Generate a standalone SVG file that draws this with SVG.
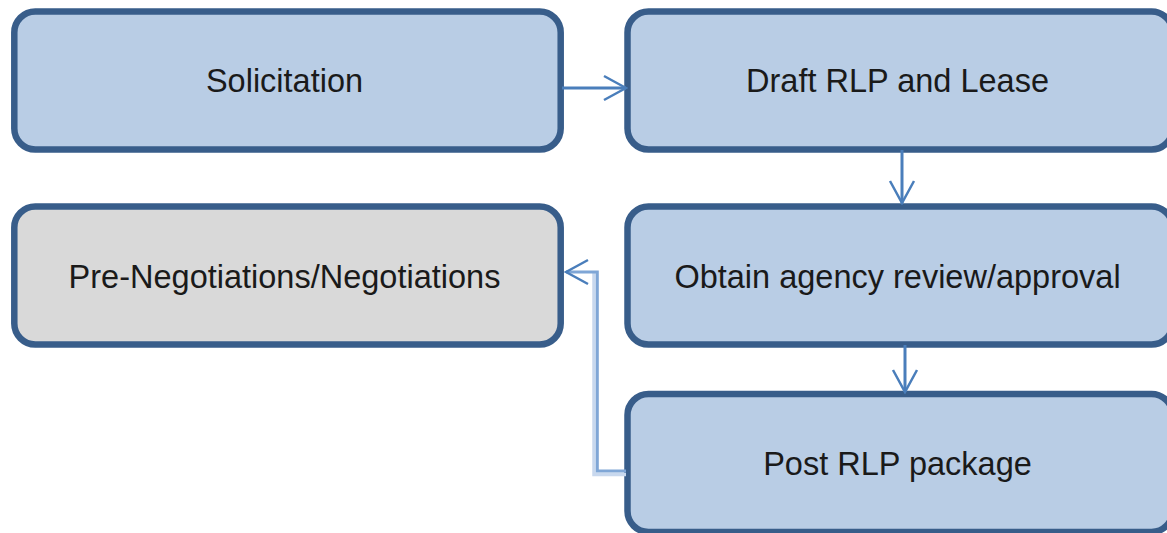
<svg xmlns="http://www.w3.org/2000/svg" width="1167" height="533" viewBox="0 0 1167 533">
  <style>
    .box { fill: #b9cde5; stroke: #385d8a; stroke-width: 6.5; }
    .grey { fill: #d9d9d9; }
    .label { font-family: "Liberation Sans", Arial, sans-serif; font-size: 32.5px; fill: #1a1a1a; text-anchor: middle; }
    .link { fill: none; stroke: #4a7ebb; stroke-width: 3; }
    .elbow { fill: none; stroke: #7fa6d6; stroke-width: 3; }
    .elbow-shade { fill: none; stroke: #c8d8ee; stroke-width: 3.5; }
  </style>
  <defs>
    <marker id="arrow" viewBox="-25 -14 27 28" markerWidth="27" markerHeight="28" refX="0" refY="0" orient="auto" markerUnits="userSpaceOnUse">
      <path d="M -22 -12 L 0 0 L -22 12" fill="none" stroke="#4a7ebb" stroke-width="2.5"/>
    </marker>
  </defs>
  <rect width="1167" height="533" fill="#ffffff"/>

  <g id="solicitation">
    <rect class="box" x="14.3" y="11.5" width="546.4" height="138" rx="21" ry="21"/>
    <text class="label" x="284.5" y="92">Solicitation</text>
  </g>
  <g id="draft-rlp">
    <rect class="box" x="627.5" y="11.5" width="545" height="138" rx="21" ry="21"/>
    <text class="label" x="897.5" y="92">Draft RLP and Lease</text>
  </g>
  <g id="pre-negotiations">
    <rect class="box grey" x="14.3" y="206.5" width="546.4" height="138" rx="21" ry="21"/>
    <text class="label" x="284.5" y="287.5">Pre-Negotiations/Negotiations</text>
  </g>
  <g id="agency-review">
    <rect class="box" x="627.5" y="206.5" width="545" height="138" rx="21" ry="21"/>
    <text class="label" x="897.5" y="287.5">Obtain agency review/approval</text>
  </g>
  <g id="post-rlp">
    <rect class="box" x="627.5" y="394" width="545" height="138" rx="21" ry="21"/>
    <text class="label" x="897.5" y="475">Post RLP package</text>
  </g>

  <g id="connectors">
    <path class="link" d="M 562 88 L 626 88" marker-end="url(#arrow)"/>
    <path class="link" d="M 902 150 L 902 203" marker-end="url(#arrow)"/>
    <path class="link" d="M 905 345 L 905 392" marker-end="url(#arrow)"/>
    <path class="elbow-shade" d="M 626 474.5 L 594 474.5 L 594 272"/>
    <path class="elbow" d="M 626 471 L 597.3 471 L 597.3 272 L 566 272" marker-end="url(#arrow)"/>
  </g>
</svg>
